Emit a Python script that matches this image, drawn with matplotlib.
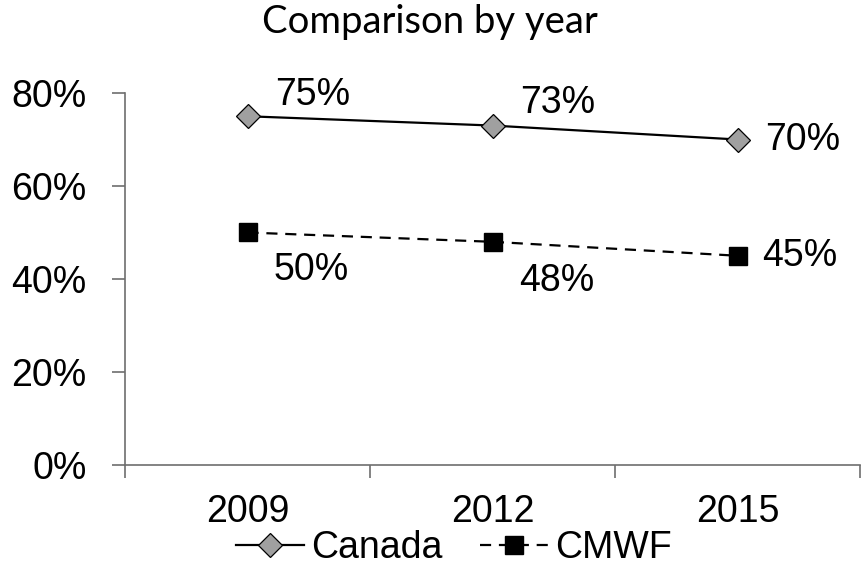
import numpy as np
import matplotlib.pyplot as plt
from matplotlib.ticker import FixedLocator, PercentFormatter

years = ['2009', '2012', '2015']
canada = [75, 73, 70]
cmwf = [50, 48, 45]
# label offsets (points)
canada_off = [(20, 15), (20, 16.5), (20, 0)]
cmwf_off = [(19, -27), (19.5, -28), (18, 0)]

plt.rcParams['font.family'] = ['Liberation Sans', 'DejaVu Sans']
FS = 27
axis_col = '#6e6e6e'

fig = plt.figure(figsize=(8.65, 5.7), dpi=100)
ax = fig.add_axes([125/865, 1 - 465/570, 735/865, 372/570])

x = np.arange(len(years))
ax.plot(x, canada, color='black', lw=1.6, marker='D', markersize=12,
        markerfacecolor='#a0a0a0', markeredgecolor='black', markeredgewidth=0.9,
        label='Canada', zorder=3)
ax.plot(x, cmwf, color='black', lw=1.6, ls=(0, (5, 3.5)), marker='s', markersize=13.5,
        markerfacecolor='black', markeredgecolor='black', label='CMWF', zorder=3)

for xi, v, off in zip(x, canada, canada_off):
    ax.annotate(f'{v}%', (xi, v), xytext=off, textcoords='offset points',
                ha='left', va='center', fontsize=FS)
for xi, v, off in zip(x, cmwf, cmwf_off):
    ax.annotate(f'{v}%', (xi, v), xytext=off, textcoords='offset points',
                ha='left', va='center', fontsize=FS)

ax.set_xlim(-0.5, 2.5)
ax.set_ylim(0, 80)
ax.set_yticks([0, 20, 40, 60, 80])
ax.yaxis.set_major_formatter(PercentFormatter(decimals=0))
ax.xaxis.set_major_locator(FixedLocator([-0.5, 0.5, 1.5, 2.5]))
ax.xaxis.set_major_formatter(plt.NullFormatter())
ax.xaxis.set_minor_locator(FixedLocator(x))
ax.set_xticklabels(years, minor=True)

for s in ['top', 'right']:
    ax.spines[s].set_visible(False)
for s in ['left', 'bottom']:
    ax.spines[s].set_color(axis_col)
    ax.spines[s].set_linewidth(1.2)
ax.tick_params(axis='y', which='major', length=9.5, width=1.2, color=axis_col,
               pad=18, labelsize=FS)
ax.tick_params(axis='x', which='major', length=9.5, width=1.2, color=axis_col)
ax.tick_params(axis='x', which='minor', length=0, pad=21, labelsize=FS)

fig.text(430/865, 1 - 33/570, 'Comparison by year', ha='center', va='baseline',
         fontsize=27.5, family=['Lato', 'DejaVu Sans'])

fig.legend(loc='center', bbox_to_anchor=(454/865, 1 - 548/570), ncol=2,
           frameon=False, fontsize=FS, handlelength=1.8, handletextpad=0.2,
           columnspacing=1.0, borderpad=0, borderaxespad=0)

fig.savefig('out.png', dpi=100)
